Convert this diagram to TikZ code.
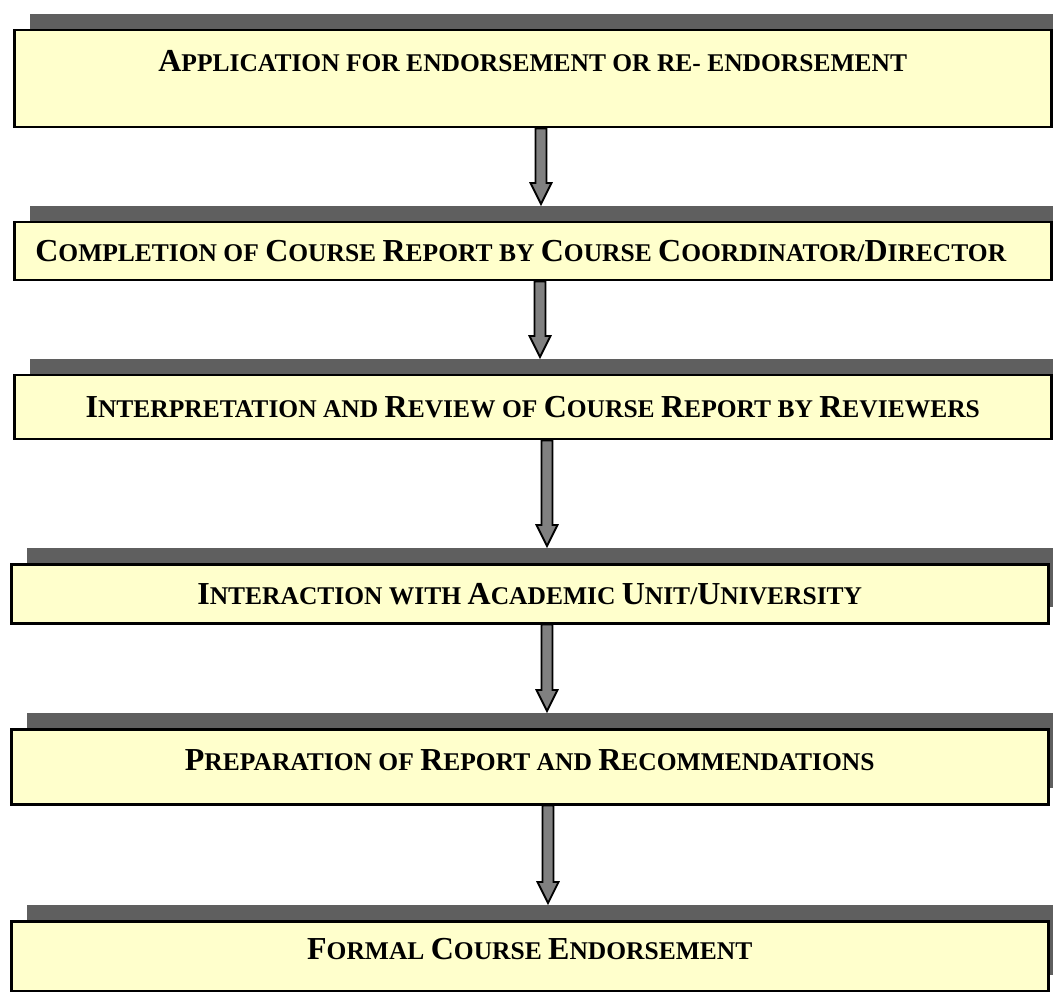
\documentclass[tikz,border=0pt]{standalone}
\usepackage{fontspec}
\setmainfont{Liberation Serif}
\usetikzlibrary{shadows,calc}
\definecolor{boxfill}{HTML}{FFFFCC}
\definecolor{shadowgray}{HTML}{5F5F5F}
\definecolor{arrowgray}{HTML}{808080}
% big capital inside the faked small caps
\newcommand\capl[1]{{\fontsize{32}{36}\selectfont #1}}
\tikzset{
  stagebox/.style={draw=black, line width=2.5pt, fill=boxfill, anchor=north west,
    minimum width=1037pt, inner sep=0pt, text height=21pt, text depth=0pt,
    font=\bfseries\fontsize{25.5}{30}\selectfont,
    general shadow={fill=shadowgray, shadow xshift=16pt, shadow yshift=16pt}},
  blockarrow/.style={draw=black, line width=1.8pt, fill=arrowgray, line join=miter}
}
\begin{document}
\begin{tikzpicture}[x=1pt,y=-1pt]
    \useasboundingbox (0,0) rectangle (1053,992);
    % stages
    \node[stagebox, minimum height=97pt, text depth=35pt] (apply) at (13,29)
        {\capl{A}PPLICATION FOR ENDORSEMENT OR RE- ENDORSEMENT};
    \node[stagebox, minimum height=58pt] (complete) at (13,221)
        {\capl{C}OMPLETION OF \capl{C}OURSE \capl{R}EPORT BY \capl{C}OURSE \capl{C}OORDINATOR/\capl{D}IRECTOR\hspace*{24pt}};
    \node[stagebox, minimum height=64pt] (review) at (13,374)
        {\capl{I}NTERPRETATION AND \capl{R}EVIEW OF \capl{C}OURSE \capl{R}EPORT BY \capl{R}EVIEWERS};
    \node[stagebox, minimum height=59pt] (interact) at (10,563)
        {\capl{I}NTERACTION WITH \capl{A}CADEMIC \capl{U}NIT/\capl{U}NIVERSITY};
    \node[stagebox, minimum height=75pt, text depth=13pt] (prepare) at (10,728)
        {\capl{P}REPARATION OF \capl{R}EPORT AND \capl{R}ECOMMENDATIONS};
    \node[stagebox, minimum height=70pt, text depth=14pt] (endorse) at (10,920)
        {\capl{F}ORMAL \capl{C}OURSE \capl{E}NDORSEMENT};
    % block arrows between stages
    \foreach \from/\to/\ax in {apply/complete/541, complete/review/540, review/interact/547,
                               interact/prepare/547, prepare/endorse/548}
        \draw[blockarrow] let \p1=(\from.south), \p2=(\to.north) in
            (\ax pt-5.5pt,\y1) -- (\ax pt-5.5pt,\y2+38pt) -- (\ax pt-10.5pt,\y2+38pt)
            -- (\ax pt,\y2+17pt) -- (\ax pt+10.5pt,\y2+38pt) -- (\ax pt+5.5pt,\y2+38pt)
            -- (\ax pt+5.5pt,\y1) -- cycle;
\end{tikzpicture}
\end{document}
